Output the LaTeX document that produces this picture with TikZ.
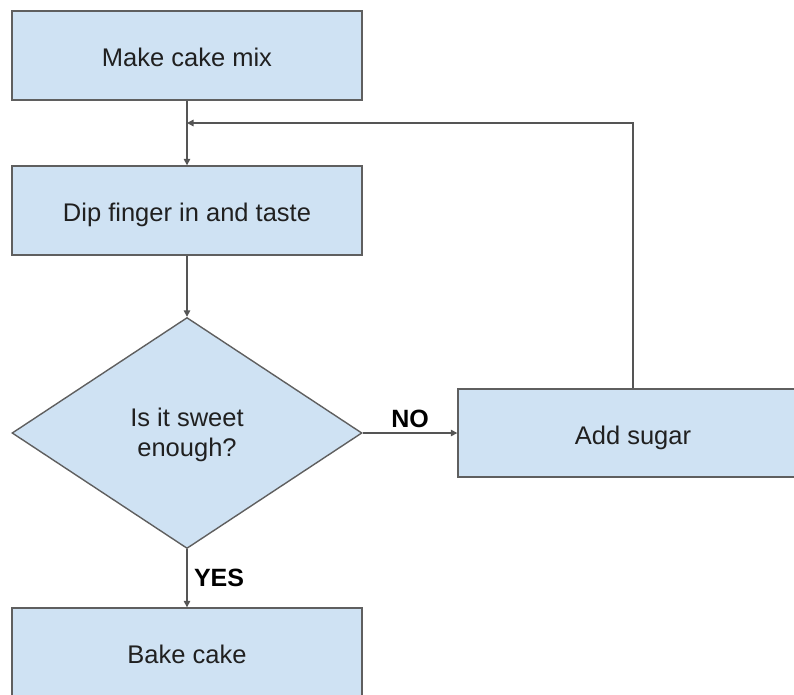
\documentclass[tikz,border=0pt]{standalone}
\usepackage{fontspec}
\setmainfont{Liberation Sans}
\usetikzlibrary{shapes.geometric,arrows.meta,positioning}

\definecolor{boxfill}{HTML}{CFE2F3}
\definecolor{boxline}{HTML}{5F5F5F}
\definecolor{linkline}{HTML}{555555}
\definecolor{inktext}{HTML}{202020}

\tikzset{
  stepbox/.style={rectangle, draw=boxline, fill=boxfill, line width=1.4pt,
    minimum width=350pt, minimum height=89pt, inner sep=0pt,
    text height=22pt, text depth=0pt,
    text=inktext, font=\fontsize{25.5}{30}\selectfont},
  decision/.style={diamond, draw=boxline, fill=boxfill, line width=1.4pt,
    minimum width=350pt, minimum height=231pt, inner sep=0pt,
    text=inktext, align=center, font=\fontsize{25.5}{30}\selectfont},
  link/.style={draw=linkline, line width=1.4pt,
    -{Triangle[length=6.5pt,width=6.5pt]}},
  branch/.style={text=black, font=\bfseries\fontsize{25}{30}\selectfont}
}

\begin{document}
\begin{tikzpicture}[x=1pt,y=-1pt]
  \useasboundingbox (0,0) rectangle (794,694);
  \clip (0,0) rectangle (794,694);

  % process steps
  \node[stepbox] (mix)   at (187,55.5)  {Make cake mix};
  \node[stepbox] (taste) at (187,210.5) {Dip finger in and taste};
  \node[decision] (sweet) at (187,433)  {\rule{0pt}{22pt}Is it sweet\\enough?};
  \node[stepbox, minimum height=88pt] (sugar) at (633,433) {Add sugar};
  \node[stepbox] (bake)  at (187,652.5) {Bake cake};

  % point where the loop rejoins the main line
  \coordinate (rejoin) at (mix.south |- 0,123);

  % connectors
  \draw[link] (mix.south) -- (taste.north);
  \draw[link] (taste.south) -- (sweet.north);
  \draw[link] (sweet.east) -- node[branch, above=1pt] {NO} (sugar.west);
  \draw[link] (sweet.south) -- node[branch, right=3pt] {YES} (bake.north);
  \draw[link] (sugar.north) |- (rejoin);
\end{tikzpicture}
\end{document}
